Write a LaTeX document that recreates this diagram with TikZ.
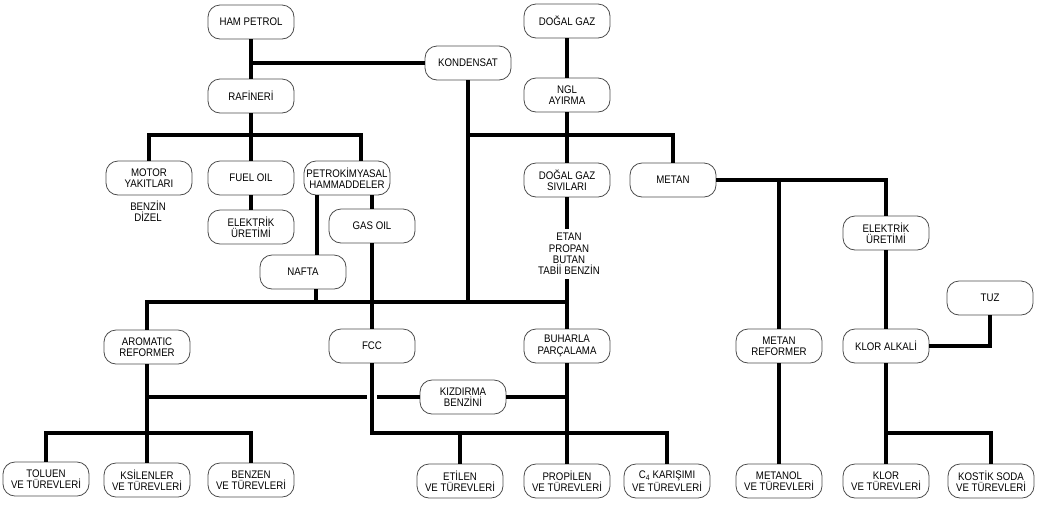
\documentclass[tikz,border=0pt]{standalone}
\usepackage{fontspec}
\setmainfont{Liberation Sans}[FakeStretch=0.88]
\begin{document}
\begin{tikzpicture}[x=1pt,y=-1pt,
  box/.style={draw=black!70, line width=0.8pt, rounded corners=12pt,
    minimum width=86pt, minimum height=34pt, align=center, inner xsep=0.5pt, inner ysep=2pt,
    font=\fontsize{11}{11.3}\selectfont},
  plain/.style={align=center, inner sep=4pt, font=\fontsize{11}{11.3}\selectfont},
  link/.style={line width=3.8pt}]
\useasboundingbox (0,0) rectangle (1043,515);
% nodes
\node[box] (ham) at (251,22) {HAM PETROL};
\node[box] (kon) at (468,63) {KONDENSAT};
\node[box] (raf) at (251,96) {RAFİNERİ};
\node[box] (mot) at (149,178) {MOTOR\\YAKITLARI};
\node[box] (fuel) at (251,178) {FUEL OIL};
\node[box] (pet) at (347,178) {PETROKİMYASAL\\HAMMADDELER};
\node[plain] (bd) at (148,211) {BENZİN\\DİZEL};
\node[box] (elk1) at (251,227) {ELEKTRİK\\ÜRETİMİ};
\node[box] (gas) at (372,226) {GAS OIL};
\node[box] (naf) at (303,272) {NAFTA};
\node[box] (dg) at (567,21) {DOĞAL GAZ};
\node[box] (ngl) at (567,95) {NGL\\AYIRMA};
\node[box] (dgs) at (567,180) {DOĞAL GAZ\\SIVILARI};
\node[box] (met) at (673,180) {METAN};
\node[box] (elk2) at (886,233) {ELEKTRİK\\ÜRETİMİ};
\node[plain] (etan) at (569,254) {ETAN\\PROPAN\\BUTAN\\TABİİ BENZİN};
\node[box] (aro) at (147,347) {AROMATIC\\REFORMER};
\node[box] (fcc) at (372,346) {FCC};
\node[box] (buh) at (567,346) {BUHARLA\\PARÇALAMA};
\node[box] (kiz) at (463,397) {KIZDIRMA\\BENZİNİ};
\node[box] (mref) at (779,346) {METAN\\REFORMER};
\node[box] (klor) at (886,346) {KLOR ALKALİ};
\node[box] (tuz) at (990,298) {TUZ};
\node[box] (tol) at (46,479) {TOLUEN\\VE TÜREVLERİ};
\node[box] (ksi) at (147,480) {KSİLENLER\\VE TÜREVLERİ};
\node[box] (benz) at (251,480) {BENZEN\\VE TÜREVLERİ};
\node[box] (eti) at (460,481) {ETİLEN\\VE TÜREVLERİ};
\node[box] (prop) at (567,481) {PROPİLEN\\VE TÜREVLERİ};
\node[box] (c4) at (667,481) {C\textsubscript{4} KARIŞIMI\\VE TÜREVLERİ};
\node[box] (mol) at (779,481) {METANOL\\VE TÜREVLERİ};
\node[box] (klv) at (886,481) {KLOR\\VE TÜREVLERİ};
\node[box] (kos) at (991,481) {KOSTİK SODA\\VE TÜREVLERİ};
% junctions
\coordinate (rj) at (251,135);
\coordinate (hj) at (567,302);
\coordinate (nj) at (468,135);
\coordinate (kj) at (886,433);
\coordinate (aj) at (147,433);
\coordinate (ak) at (147,397);
\coordinate (bj) at (567,433);
% connectors
\draw[link] (ham.south) -- (raf.north);
\draw[link] (kon.west) -- (kon.west -| ham.south);
\draw[link] (raf.south) -- (fuel.north);
\draw[link] (mot.north) |- (rj) -| ([xshift=14pt]pet.north);
\draw[link] (fuel.south) -- (elk1.north);
\draw[link] ([xshift=-30pt]pet.south) -- ([xshift=14pt]naf.north);
\draw[link] ([xshift=25pt]pet.south) -- (gas.north);
\draw[link] (gas.south) -- (fcc.north);
\draw[link] (aro.north) |- (hj);
\draw[link] ([xshift=13pt]naf.south) -- ([xshift=13pt]naf.south |- hj);
\draw[link] (kon.south) -- (kon.south |- hj);
\draw[link] (dg.south) -- (ngl.north);
\draw[link] (ngl.south) -- (dgs.north);
\draw[link] (dgs.south) -- (dgs.south |- etan.north);
\draw[link] (etan.south -| buh.north) -- (buh.north);
\draw[link] (nj) -| (met.north);
\draw[link] (met.east) -| (elk2.north);
\draw[link] (mref.north) -- (mref.north |- met.east);
\draw[link] (elk2.south) -- (klor.north);
\draw[link] (tuz.south) |- (klor.east);
\draw[link] (mref.south) -- (mol.north);
\draw[link] (klor.south) -- (klv.north);
\draw[link] (kj) -| (kos.north);
\draw[link] (aro.south) -- (ksi.north);
\draw[link] (tol.north) |- (aj) -| (benz.north);
\draw[link] (ak) -- ([xshift=-5pt]ak -| fcc.south);
\draw[link] ([xshift=5pt]ak -| fcc.south) -- (kiz.west);
\draw[link] (kiz.east) -- (kiz.east -| buh.south);
\draw[link] (fcc.south) |- (bj) -| (c4.north);
\draw[link] (buh.south) -- (prop.north);
\draw[link] (eti.north) -- (eti.north |- bj);
\end{tikzpicture}
\end{document}
